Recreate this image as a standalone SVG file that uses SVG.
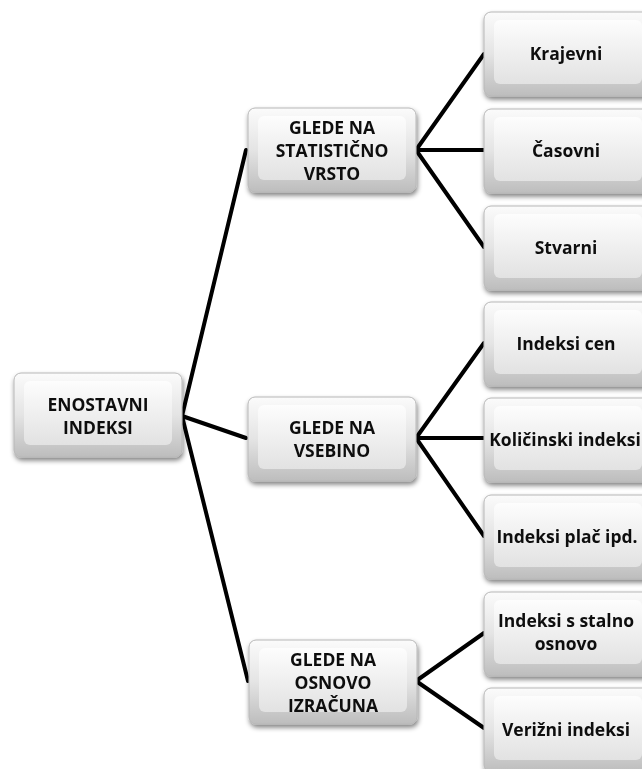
<svg xmlns="http://www.w3.org/2000/svg" width="642" height="769" viewBox="0 0 642 769">
  <defs>
    <linearGradient id="outer" x1="0" y1="0" x2="0" y2="1">
      <stop offset="0" stop-color="#fbfbfb"/>
      <stop offset="0.5" stop-color="#e4e4e4"/>
      <stop offset="1" stop-color="#bdbdbd"/>
    </linearGradient>
    <linearGradient id="inner" x1="0" y1="0" x2="0" y2="1">
      <stop offset="0" stop-color="#fdfdfd"/>
      <stop offset="1" stop-color="#e2e2e2"/>
    </linearGradient>
    <filter id="shadow" x="-10%" y="-10%" width="125%" height="130%">
      <feGaussianBlur in="SourceAlpha" stdDeviation="2.5"/>
      <feOffset dx="1" dy="3" result="b"/>
      <feComponentTransfer><feFuncA type="linear" slope="0.5"/></feComponentTransfer>
      <feMerge><feMergeNode/><feMergeNode in="SourceGraphic"/></feMerge>
    </filter>
    <!-- bevelled button: outer rim plus lighter inner face -->
    <g id="box">
      <rect x="0" y="0" width="168" height="84" rx="7" fill="url(#outer)" stroke="#b8b8b8" stroke-width="1"/>
      <rect x="10" y="8" width="148" height="64" rx="6" fill="url(#inner)"/>
    </g>
  </defs>
  <style>
    text { font-family: "Open Sans", "Liberation Sans", sans-serif; font-weight: bold; font-size: 17.5px; fill: #111; text-anchor: middle; }
    .conn line { stroke: #000; stroke-width: 4; stroke-linecap: round; }
  </style>

  <g class="conn" id="connectors">
    <line x1="182" y1="416" x2="246" y2="150"/>
    <line x1="182" y1="416" x2="246" y2="438"/>
    <line x1="182" y1="416" x2="248" y2="681"/>
    <line x1="416" y1="150" x2="484" y2="54"/>
    <line x1="416" y1="150" x2="484" y2="150"/>
    <line x1="416" y1="150" x2="484" y2="247"/>
    <line x1="416" y1="438" x2="484" y2="343"/>
    <line x1="416" y1="438" x2="484" y2="438"/>
    <line x1="416" y1="438" x2="484" y2="536"/>
    <line x1="416" y1="681" x2="484" y2="633"/>
    <line x1="416" y1="681" x2="484" y2="728"/>
  </g>

  <g id="root" filter="url(#shadow)">
    <use href="#box" transform="translate(14,373)"/>
    <text x="98" y="411">ENOSTAVNI</text>
    <text x="98" y="434">INDEKSI</text>
  </g>

  <g id="statisticna" filter="url(#shadow)">
    <use href="#box" transform="translate(248,108)"/>
    <text x="332" y="134">GLEDE NA</text>
    <text x="332" y="157">STATISTIČNO</text>
    <text x="332" y="180">VRSTO</text>
  </g>
  <g id="vsebina" filter="url(#shadow)">
    <use href="#box" transform="translate(248,397)"/>
    <text x="332" y="434">GLEDE NA</text>
    <text x="332" y="457">VSEBINO</text>
  </g>
  <g id="osnova" filter="url(#shadow)">
    <use href="#box" transform="translate(249,640)"/>
    <text x="333" y="666">GLEDE NA</text>
    <text x="333" y="689">OSNOVO</text>
    <text x="333" y="712">IZRAČUNA</text>
  </g>

  <g id="krajevni" filter="url(#shadow)">
    <use href="#box" transform="translate(484,12)"/>
    <text x="566" y="60">Krajevni</text>
  </g>
  <g id="casovni" filter="url(#shadow)">
    <use href="#box" transform="translate(484,109)"/>
    <text x="566" y="157">Časovni</text>
  </g>
  <g id="stvarni" filter="url(#shadow)">
    <use href="#box" transform="translate(484,206)"/>
    <text x="566" y="254">Stvarni</text>
  </g>
  <g id="cene" filter="url(#shadow)">
    <use href="#box" transform="translate(484,302)"/>
    <text x="566" y="350">Indeksi cen</text>
  </g>
  <g id="kolicine" filter="url(#shadow)">
    <use href="#box" transform="translate(484,398)"/>
    <text x="565" y="446" font-size="17px">Količinski indeksi</text>
  </g>
  <g id="place" filter="url(#shadow)">
    <use href="#box" transform="translate(484,495)"/>
    <text x="567" y="543">Indeksi plač ipd.</text>
  </g>
  <g id="stalna" filter="url(#shadow)">
    <use href="#box" transform="translate(484,592)"/>
    <text x="566" y="627">Indeksi s stalno</text>
    <text x="566" y="650">osnovo</text>
  </g>
  <g id="verizni" filter="url(#shadow)">
    <use href="#box" transform="translate(484,688)"/>
    <text x="566" y="736">Verižni indeksi</text>
  </g>
</svg>
